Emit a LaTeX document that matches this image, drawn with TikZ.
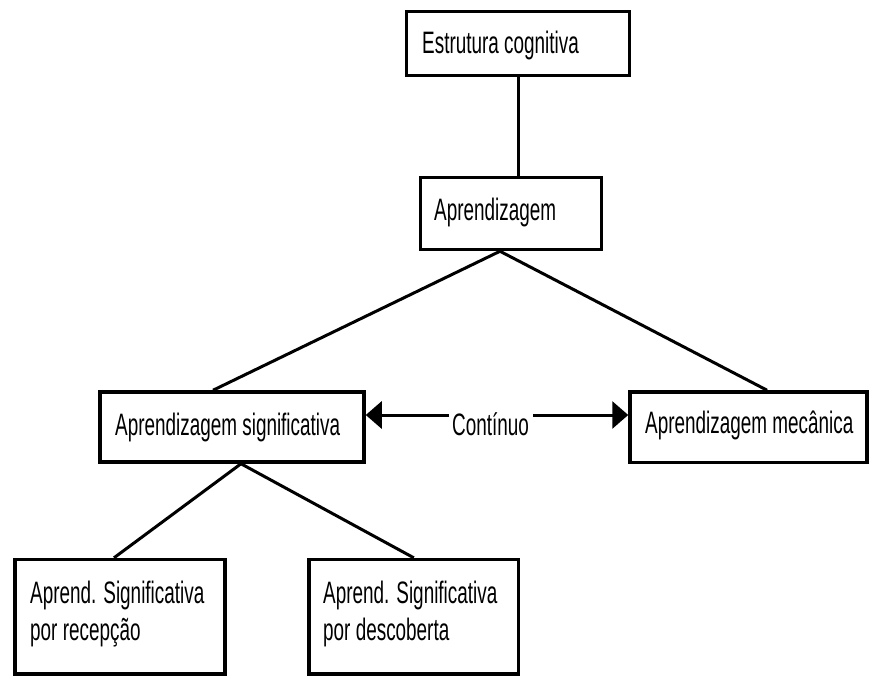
\documentclass[tikz,border=0pt]{standalone}
\usepackage{fontspec}
\setmainfont{Liberation Sans}[FakeStretch=0.61]
\usetikzlibrary{arrows.meta}
\begin{document}
\begin{tikzpicture}[x=1pt,y=-1pt,
  box/.style={draw,line width=3.5pt,inner sep=0pt},
  txt/.style={anchor=base west,inner sep=0pt,align=left,
    font=\fontsize{31}{37}\selectfont},
  link/.style={line width=3pt},
  dual/.style={line width=3pt,-{Triangle[length=16pt,width=27pt]}}]
\useasboundingbox (0,0) rectangle (869,677);

% boxes
\node[box,minimum width=223pt,minimum height=64pt] (b1) at (518,43.4) {};
\node[box,minimum width=181pt,minimum height=72pt] (b2) at (511,213.5) {};
\node[box,minimum width=264pt,minimum height=70pt] (b3) at (232,427) {};
\node[box,minimum width=237pt,minimum height=70.5pt] (b4) at (748.5,427.2) {};
\node[box,minimum width=210pt,minimum height=114.5pt] (b5) at (120,616.8) {};
\node[box,minimum width=209.5pt,minimum height=114.5pt] (b6) at (413.8,616.8) {};

% box texts, left aligned inside each box (base = last line)
\node[txt] (t1) at (422,54) {Estrutura cognitiva};
\node[txt] (t2) at (434,220) {Aprendizagem};
\node[txt] (t3) at (115,435) {Aprendizagem significativa};
\node[txt] (t4) at (645,433) {Aprendizagem mecânica};
\node[txt] (t5) at (30,640) {Aprend. Significativa\\por recepção};
\node[txt] (t6) at (323,640) {Aprend. Significativa\\por descoberta};

% continuum label between the two kinds of learning
\node[txt] (cont) at (452,435) {Contínuo};
\coordinate (cl) at (449,415);
\coordinate (cr) at (533,415);

% tree connectors
\draw[link] (b1.south) -- (b1.south |- b2.north);
\draw[link] ([xshift=-11pt]b2.south) -- ([xshift=-19pt]b3.north);
\draw[link] ([xshift=-11pt]b2.south) -- ([xshift=18.5pt]b4.north);
\draw[link] ([xshift=9pt]b3.south) -- ([xshift=-6pt]b5.north);
\draw[link] ([xshift=9pt]b3.south) -- ([xshift=0pt]b6.north);

% continuum arrows
\draw[dual] (cl) -- (cl -| b3.east);
\draw[dual] (cr) -- (cr -| b4.west);
\end{tikzpicture}
\end{document}
